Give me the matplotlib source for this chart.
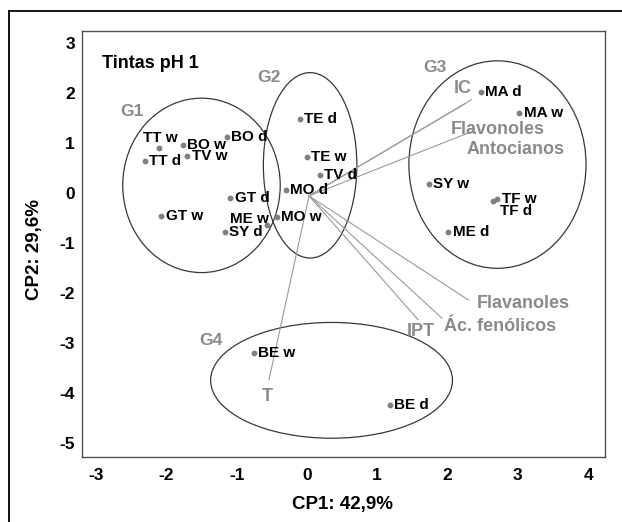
import matplotlib
matplotlib.use("Agg")
import matplotlib.pyplot as plt
from matplotlib.patches import Ellipse
from matplotlib.lines import Line2D

plt.rcParams['font.family'] = ['Liberation Sans', 'DejaVu Sans']
plt.rcParams['axes.unicode_minus'] = False

# ---- data ----
sample_names = ["TT w", "BO w", "BO d", "TT d", "TV w", "GT d", "GT w", "ME w", "SY d",
                "MO w", "MO d", "TE d", "TE w", "TV d", "MA d", "MA w", "SY w", "TF w",
                "TF d", "ME d", "BE w", "BE d"]
cp1 = [-2.11, -1.77, -1.14, -2.31, -1.70, -1.09, -2.07, -0.57, -1.17,
       -0.43, -0.30, -0.10, 0.00, 0.18, 2.47, 3.02, 1.73, 2.71,
       2.65, 2.01, -0.76, 1.18]
cp2 = [0.90, 0.96, 1.11, 0.64, 0.74, -0.11, -0.46, -0.64, -0.78,
       -0.48, 0.05, 1.48, 0.72, 0.36, 2.01, 1.59, 0.17, -0.12,
       -0.16, -0.78, -3.19, -4.24]

var_names = ["IC", "Flavonoles", "Antocianos", "Flavanoles", "Ác. fenólicos", "IPT", "T"]
load_origin = (0.03, -0.06)
load_x = [2.34, 2.25, 2.34, 2.30, 1.92, 1.58, -0.54]
load_y = [1.86, 1.78, 1.22, -2.14, -2.50, -2.53, -3.73]
var_label_x = [2.22, 2.71, 2.97, 3.08, 2.75, 1.62, -0.57]
var_label_y = [2.09, 1.26, 0.86, -2.20, -2.67, -2.77, -4.07]

group_names = ["G1", "G2", "G3", "G4"]
group_cx = [-1.50, 0.045, 2.71, 0.35]
group_cy = [0.15, 0.55, 0.565, -3.74]
group_w = [2.24, 1.33, 2.52, 3.44]
group_h = [3.48, 3.70, 4.14, 2.31]
group_label_x = [-2.49, -0.54, 1.82, -1.36]
group_label_y = [1.62, 2.31, 2.51, -2.95]

title_text = "Tintas pH 1"
xlabel = "CP1: 42,9%"
ylabel = "CP2: 29,6%"
xticks = [-3, -2, -1, 0, 1, 2, 3, 4]
yticks = [3, 2, 1, 0, -1, -2, -3, -4, -5]

# ---- label placement (pixels offset, ha) ----
label_style = {
    "TT w": (1.5, 9.5, "center"),
    "TF d": (6.5, -10.5, "left"),
    "ME w": (2.0, 6.0, "right"),
}

fig = plt.figure(figsize=(6.22, 5.22), dpi=100)
ax = fig.add_axes([0.1318, 0.1245, 0.9727 - 0.1318, 0.9406 - 0.1245])
ax.set_xlim(-3.2, 4.24)
ax.set_ylim(-5.27, 3.23)

for s in ax.spines.values():
    s.set_color("#505050")
    s.set_linewidth(1.0)

ax.set_xticks(xticks)
ax.set_yticks(yticks)
ax.tick_params(length=0, labelsize=12.5)
ax.tick_params(axis="x", pad=8)
ax.tick_params(axis="y", pad=5)
for lab in ax.get_xticklabels() + ax.get_yticklabels():
    lab.set_fontweight("bold")

# ellipses
for cx, cy, w, h in zip(group_cx, group_cy, group_w, group_h):
    ax.add_patch(Ellipse((cx, cy), w, h, fill=False, edgecolor="#383838", lw=0.9))

# loading lines
for lx, ly in zip(load_x, load_y):
    ax.plot([load_origin[0], lx], [load_origin[1], ly], color="#9a9a9a", lw=0.8)

# points
ax.plot(cp1, cp2, "o", color="#808080", markersize=3.2, linestyle="none")

# point labels
px2pt = 72.0 / 100.0
for name, x, y in zip(sample_names, cp1, cp2):
    dx, dy, ha = label_style.get(name, (4.5, 0.0, "left"))
    ax.annotate(name, (x, y), xytext=(dx * px2pt, dy * px2pt), textcoords="offset points",
                ha=ha, va="center", fontsize=11, fontweight="bold", color="black")

# variable labels
for name, x, y in zip(var_names, var_label_x, var_label_y):
    ax.text(x, y, name, ha="center", va="center", fontsize=13, fontweight="bold", color="#8a8a8a")

# group labels
for name, x, y in zip(group_names, group_label_x, group_label_y):
    ax.text(x, y, name, ha="center", va="center", fontsize=12.5, fontweight="bold", color="#8a8a8a")

ax.text(-2.92, 2.59, title_text, ha="left", va="center", fontsize=13, fontweight="bold", color="black")

fig.text(343 / 622, 1 - 505 / 522, xlabel, ha="center", va="center", fontsize=13.5, fontweight="bold")
fig.text(35 / 622, 1 - 250 / 522, ylabel, ha="center", va="center", rotation=90, fontsize=13.5, fontweight="bold")

# outer frame (cropped at right/bottom)
x0 = 9 / 622
y0 = 1 - 11 / 522
fig.add_artist(Line2D([x0, x0], [0, y0], transform=fig.transFigure, color="black", lw=1.3))
fig.add_artist(Line2D([x0, 1], [y0, y0], transform=fig.transFigure, color="black", lw=1.3))

fig.savefig("out.png", dpi=100)
